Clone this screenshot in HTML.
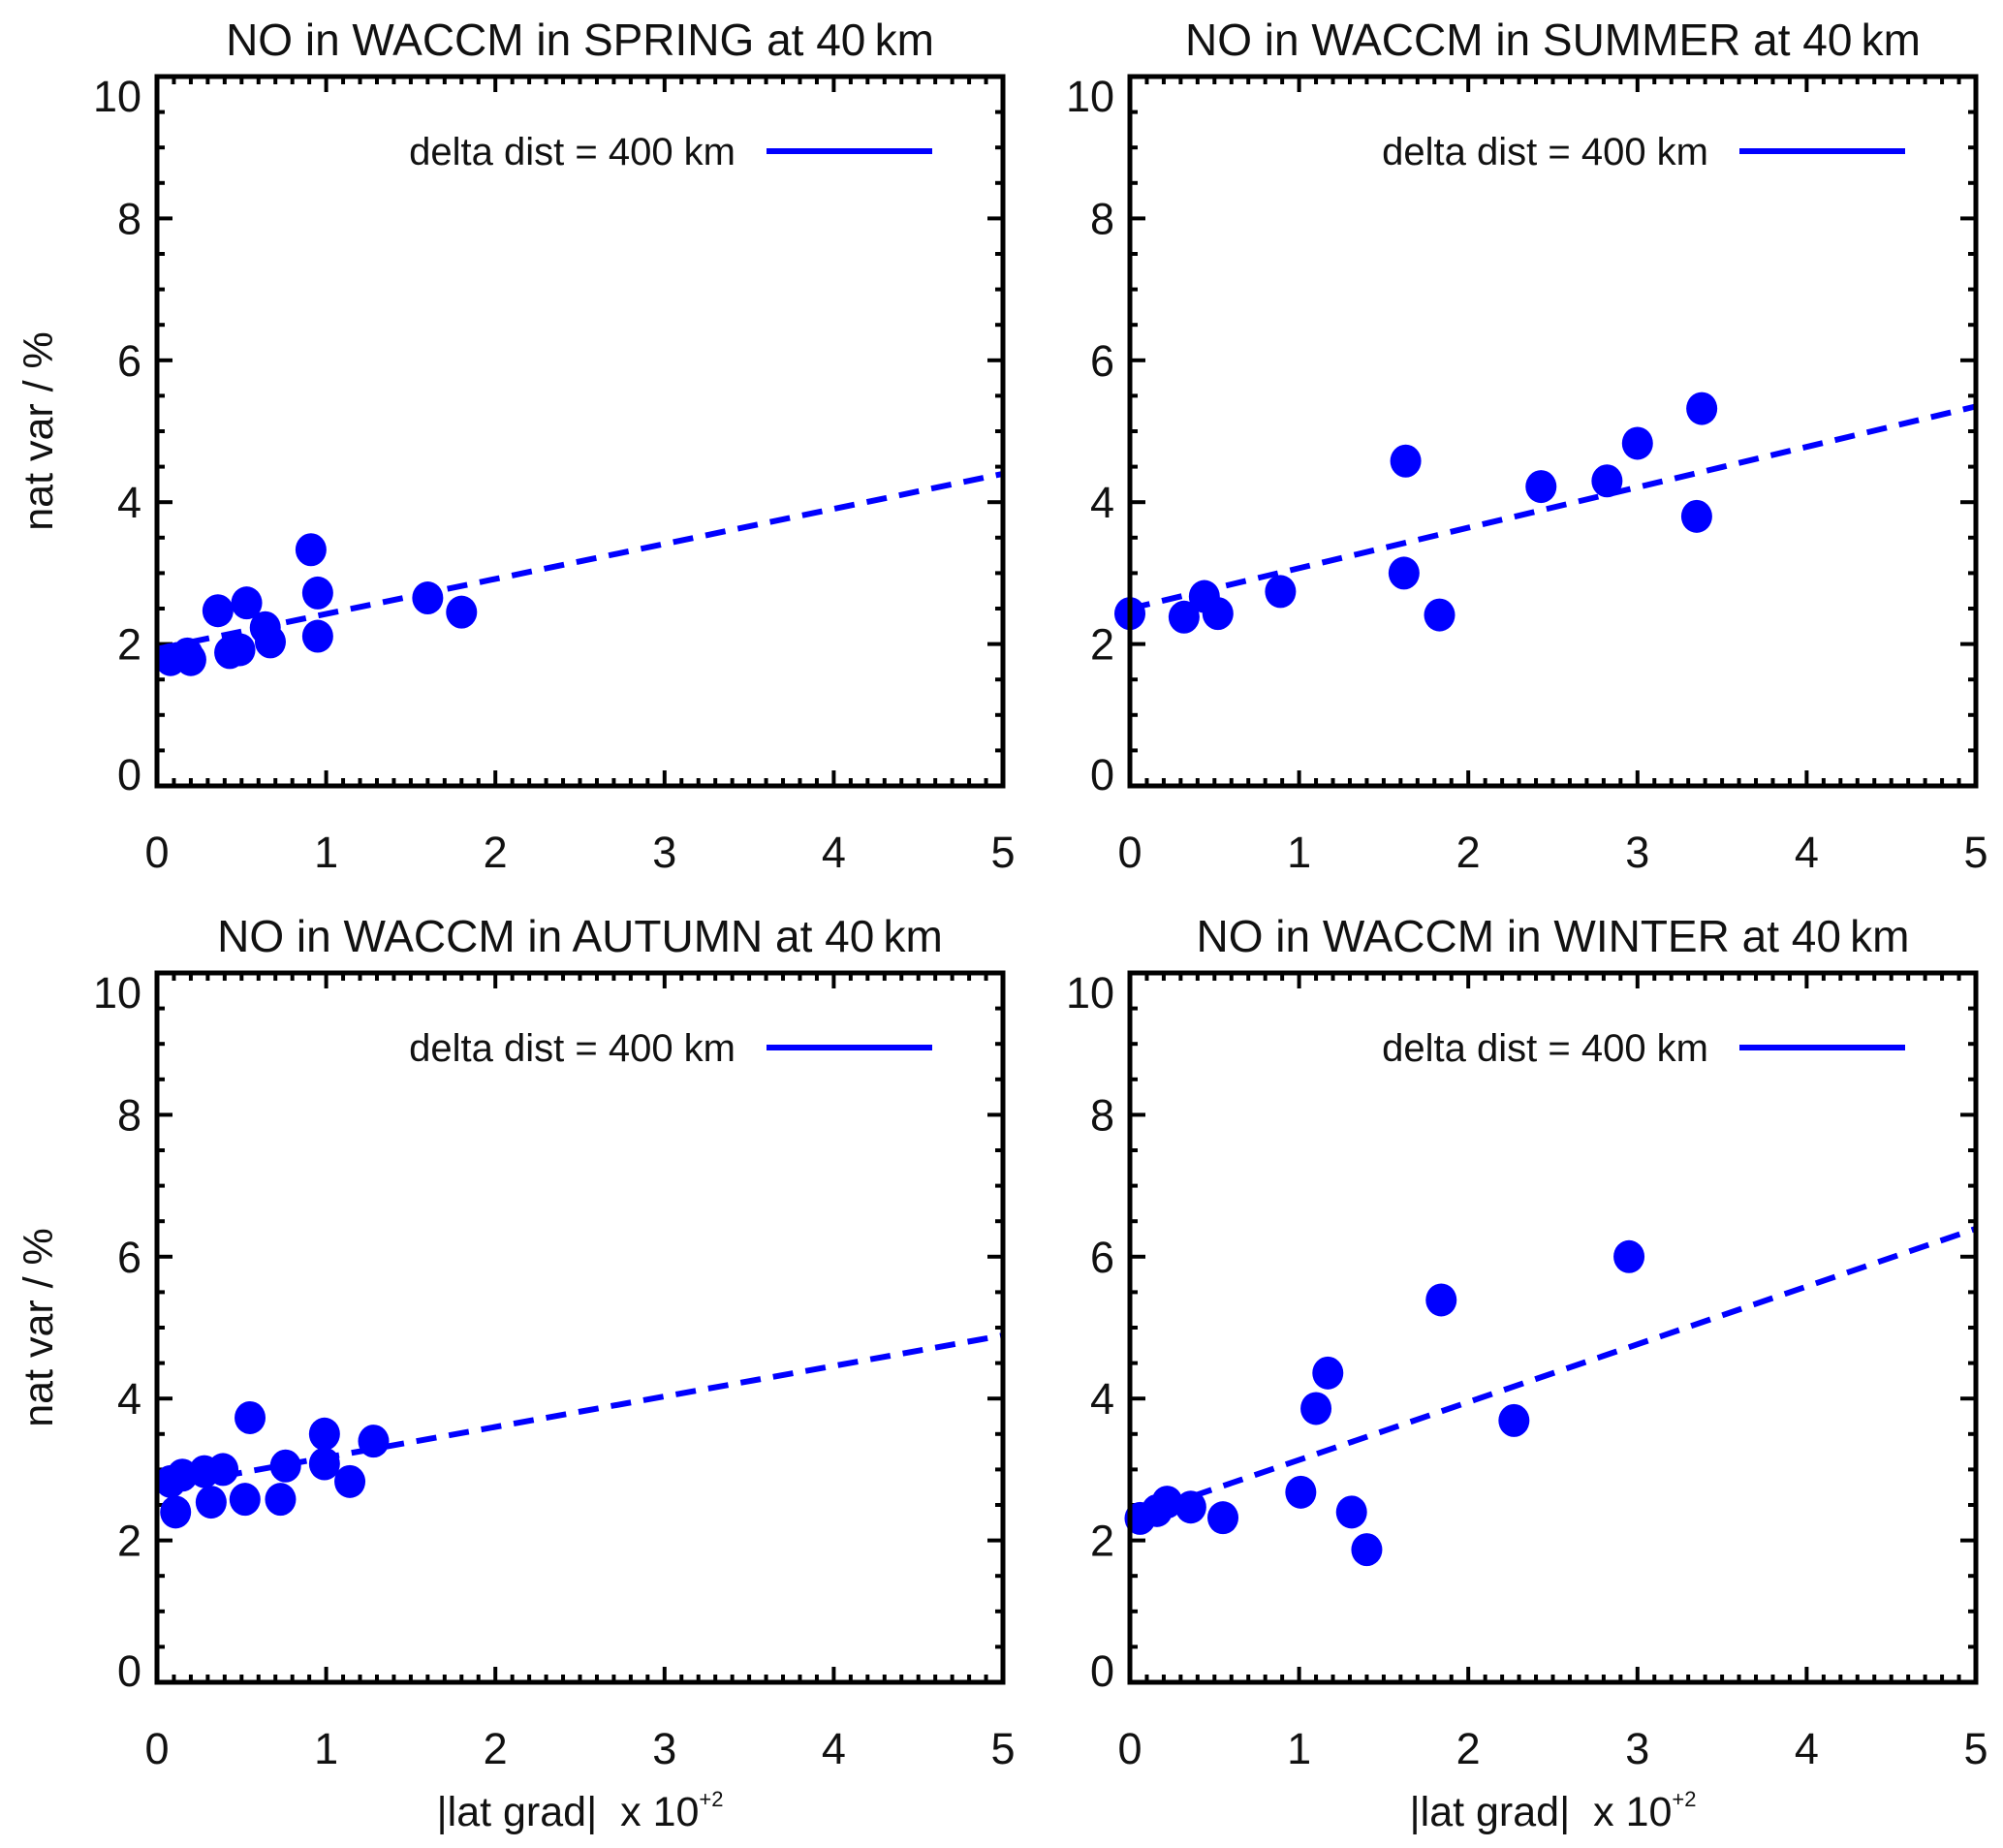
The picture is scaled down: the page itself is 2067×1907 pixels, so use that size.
<!DOCTYPE html>
<html><head><meta charset="utf-8">
<style>
html,body{margin:0;padding:0;background:#fff;}
svg{display:block;font-family:"Liberation Sans",Arial,sans-serif;}
</style></head>
<body>
<svg id="fig" width="2067" height="1907" viewBox="0 0 2067 1907" xmlns="http://www.w3.org/2000/svg"></svg>
<script>
// ---- data ----
const springX = [0.08,0.18,0.2,0.36,0.43,0.49,0.53,0.64,0.67,0.91,0.95,0.95,1.6,1.8];
const springY = [1.78,1.86,1.78,2.47,1.88,1.92,2.58,2.23,2.03,3.33,2.72,2.11,2.65,2.45];
const springFit = [1.93,0.494];
const summerX = [0.0,0.32,0.44,0.52,0.89,1.62,1.63,1.83,2.43,2.82,3.0,3.35,3.38];
const summerY = [2.43,2.38,2.67,2.43,2.74,3.0,4.58,2.41,4.22,4.3,4.83,3.8,5.32];
const summerFit = [2.5,0.57];
const autumnX = [0.11,0.08,0.15,0.28,0.32,0.39,0.52,0.55,0.73,0.76,0.99,0.99,1.14,1.28];
const autumnY = [2.4,2.83,2.92,2.97,2.54,3.0,2.58,3.73,2.58,3.05,3.5,3.08,2.83,3.4];
const autumnFit = [2.74,0.43];
const winterX = [0.06,0.16,0.22,0.36,0.55,1.01,1.1,1.17,1.31,1.4,1.84,2.27,2.95];
const winterY = [2.31,2.42,2.54,2.47,2.32,2.68,3.86,4.36,2.4,1.87,5.39,3.69,6.0];
const winterFit = [2.32,0.815];
const xTicks = [0,1,2,3,4,5];
const yTicks = [0,2,4,6,8,10];
const titles = ["NO in WACCM in SPRING at 40\u2009km","NO in WACCM in SUMMER at 40\u2009km","NO in WACCM in AUTUMN at 40\u2009km","NO in WACCM in WINTER at 40\u2009km"];

const NS="http://www.w3.org/2000/svg";
const svg=document.getElementById('fig');
function mk(tag,attrs,parent){const e=document.createElementNS(NS,tag);for(const k in attrs)e.setAttribute(k,attrs[k]);(parent||svg).appendChild(e);return e;}

function panel(name,L,T,R,B,title,xs,ys,fit,showYLabel,showXLabel){
  const g=mk('g',{});
  
  
  const sx=v=>L+(R-L)*v/5, sy=v=>B-(B-T)*v/10;
  const t=mk('text',{x:(L+R)/2,y:T-22,'font-size':46,'text-anchor':'middle',fill:'#111'},g);
  t.textContent=title;
  
  
  for(let i=0;i<=50;i++){
    const x=sx(i/10), len=(i%10===0)?16:8;
    mk('line',{x1:x,x2:x,y1:B,y2:B-len,stroke:'#000','stroke-width':4},g);
    mk('line',{x1:x,x2:x,y1:T,y2:T+len,stroke:'#000','stroke-width':4},g);
  }
  for(let i=0;i<=20;i++){
    const y=sy(i/2), len=(i%4===0)?16:8;
    mk('line',{x1:L,x2:L+len,y1:y,y2:y,stroke:'#000','stroke-width':4},g);
    mk('line',{x1:R,x2:R-len,y1:y,y2:y,stroke:'#000','stroke-width':4},g);
  }
  xTicks.forEach(v=>{
    const e=mk('text',{x:sx(v),y:B+84,'font-size':45,'text-anchor':'middle',fill:'#111'},g);
    e.textContent=v;
    
    
  });
  yTicks.forEach(v=>{
    const e=mk('text',{x:L-16,y:sy(v)+(v===10?36:v===0?4:16),'font-size':45,'text-anchor':'end',fill:'#111'},g);
    e.textContent=v;
    
    
  });
  const fl=mk('line',{x1:sx(0),y1:sy(fit[0]),x2:sx(5),y2:sy(fit[0]+fit[1]*5),stroke:'#0000ff','stroke-width':6,'stroke-dasharray':'21 13'},g);
  
  
  xs.forEach((x,i)=>{
    const c=mk('ellipse',{cx:sx(x),cy:sy(ys[i]),rx:16,ry:17,fill:'#0000ff'},g);
    
    
  });
  const fr=mk('rect',{x:L,y:T,width:R-L,height:B-T,fill:'none',stroke:'#000','stroke-width':5},g);
  
  
  const lt=mk('text',{x:L+597,y:T+91,'font-size':40,'text-anchor':'end',fill:'#111'},g);
  lt.textContent='delta dist = 400 km';
  
  
  const ll=mk('line',{x1:L+629,x2:L+800,y1:T+77,y2:T+77,stroke:'#0000ff','stroke-width':6},g);
  
  
  if(showYLabel){
    const yl=mk('text',{x:0,y:0,'font-size':43,'text-anchor':'middle',fill:'#111',transform:`translate(54,${(T+B)/2}) rotate(-90)`},g);
    yl.textContent='nat var / %';
    
    
  }
  if(showXLabel){
    const xl=mk('text',{x:(L+R)/2,y:B+148,'font-size':43,'text-anchor':'middle',fill:'#111'},g);
    xl.innerHTML='|lat grad|  x 10<tspan dy="-20" font-size="22">+2</tspan>';
    xl.setAttribute('xml:space','preserve');
    xl.style.whiteSpace='pre';
    
    
  }
}
panel('spring',162,79,1035,811,titles[0],springX,springY,springFit,true,false);
panel('summer',1166,79,2039,811,titles[1],summerX,summerY,summerFit,false,false);
panel('autumn',162,1004,1035,1736,titles[2],autumnX,autumnY,autumnFit,true,true);
panel('winter',1166,1004,2039,1736,titles[3],winterX,winterY,winterFit,false,true);
</script>
</body></html>
